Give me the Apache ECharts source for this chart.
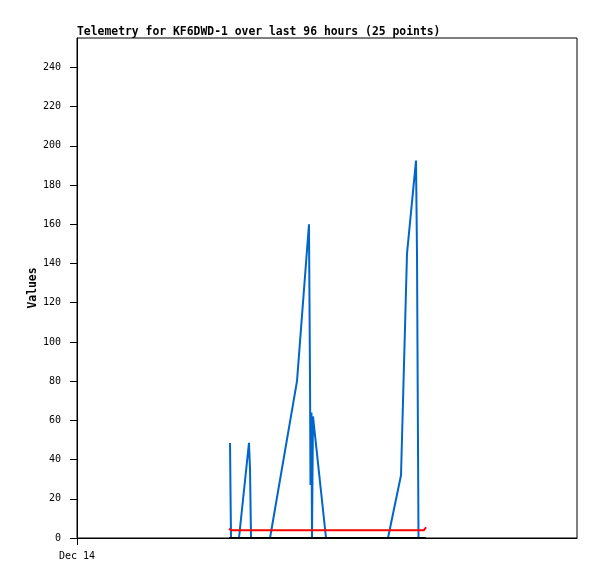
<!DOCTYPE html>
<html><head><meta charset="utf-8">
<script src="https://cdn.jsdelivr.net/npm/echarts@6/dist/echarts.min.js"></script>
<style>html,body{margin:0;padding:0;background:#fff}#c{width:597px;height:579px}</style>
</head><body><div id="c"></div>
<script>
// hours since Dec 14 00:00
const titleText = 'Telemetry for KF6DWD-1 over last 96 hours (25 points)';
const xTickLabels = ['Dec 14'];
const yTicks = [0,20,40,60,80,100,120,140,160,180,200,220,240];
const blueHours = [29.38,29.47,29.57,31.10,33.02,33.22,33.41,37.06,42.24,44.54,44.74,44.83,45.02,45.12,45.31,47.81,59.71,62.21,63.36,65.09,65.28,65.47,65.57];
const blueValues = [48.5,24,0,0,48.5,35,0,0,80,160,80,27,64,0,62,0,0,32,145,192.5,145,48,0];
const redHours = [29.18,29.57,66.62,67.01];
const redValues = [4.7,4.0,4.0,5.5];
const blackHours = [29.18,67.01];
const blackValues = [0,0];

const zip = (a,b)=>a.map((v,i)=>[v,b[i]]);
const mono = "'DejaVu Sans Mono', monospace";
const chart = echarts.init(document.getElementById('c'), null, {renderer:'canvas'});
chart.setOption({
  animation:false,
  backgroundColor:'#fff',
  title:{text:titleText,left:72,top:22,textStyle:{fontFamily:mono,fontSize:11.4,fontWeight:'bold',color:'#000'}},
  grid:{left:77,top:38,width:500,height:500,show:true,borderColor:'#000',borderWidth:1,containLabel:false},
  xAxis:{type:'value',min:0,max:96,
    axisLine:{lineStyle:{color:'#000',width:1}},
    axisTick:{show:true,length:7,lineStyle:{color:'#000'},customValues:[0]},
    axisLabel:{customValues:[0],formatter:()=>xTickLabels[0],color:'#000',fontFamily:mono,fontSize:10,margin:13},
    splitLine:{show:false}},
  yAxis:{type:'value',min:0,max:255,name:'Values',nameLocation:'middle',nameGap:38,nameRotate:90,nameMoveOverlap:false,
    nameTextStyle:{fontFamily:mono,fontSize:11.4,fontWeight:'bold',color:'#000'},
    axisLine:{show:true,lineStyle:{color:'#000',width:1}},
    axisTick:{show:true,length:7,lineStyle:{color:'#000'},customValues:yTicks},
    axisLabel:{customValues:yTicks,color:'#000',fontFamily:mono,fontSize:10,margin:16},
    splitLine:{show:false}},
  series:[
    {type:'line',data:zip(blueHours,blueValues),showSymbol:false,lineStyle:{color:'#0066cc',width:2},z:2},
    {type:'line',data:zip(redHours,redValues),showSymbol:false,lineStyle:{color:'#ff0000',width:2},z:3},
    {type:'line',data:zip(blackHours,blackValues),showSymbol:false,lineStyle:{color:'#000',width:2},z:4}
  ]
});
</script></body></html>
